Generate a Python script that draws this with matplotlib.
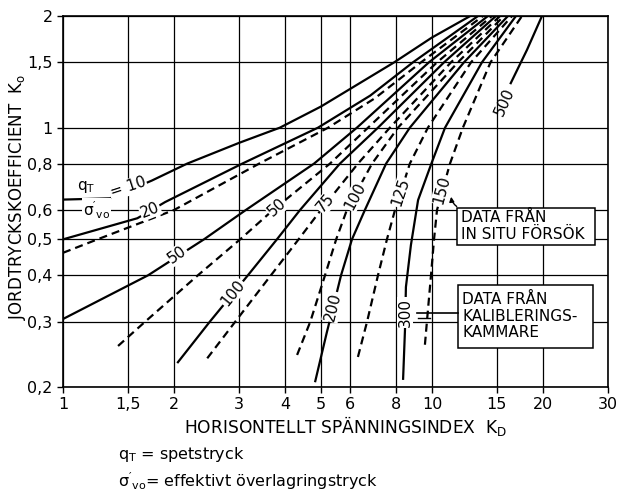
import matplotlib.pyplot as plt
from matplotlib.patches import Rectangle
from matplotlib.ticker import NullLocator

plt.rcParams['font.family'] = ['DejaVu Sans']
plt.rcParams['mathtext.default'] = 'regular'
plt.rcParams['lines.scale_dashes'] = False

# horizontal stress index K_D and earth pressure coefficient K_o,
# read off the chart, one pair of lists per curve (s = in situ, d = chamber)
kd_10s = [1.0, 1.34, 1.74, 2.17, 3.0, 3.87, 5.0, 7.9, 10.0, 12.7]
k0_10s = [0.64, 0.645, 0.72, 0.80, 0.91, 1.0, 1.14, 1.5, 1.75, 2.0]

kd_20s = [1.0, 1.59, 1.74, 1.89, 3.06, 4.91, 6.8, 8.88, 13.33]
k0_20s = [0.50, 0.57, 0.60, 0.63, 0.80, 1.0, 1.22, 1.5, 2.0]

kd_20d = [1.0, 1.24, 2.0, 3.40, 5.23, 7.0, 9.34, 13.75]
k0_20d = [0.46, 0.5, 0.6, 0.8, 1.0, 1.2, 1.5, 2.0]

kd_50s = [1.0, 1.70, 2.41, 3.13, 4.79, 6.26, 9.81, 14.18]
k0_50s = [0.305, 0.4, 0.5, 0.6, 0.8, 1.0, 1.5, 2.0]

kd_50d = [1.41, 1.67, 2.32, 3.02, 3.71, 5.29, 6.71, 10.32, 14.54]
k0_50d = [0.258, 0.3, 0.4, 0.5, 0.6, 0.8, 1.0, 1.5, 2.0]

kd_100s = [2.04, 2.50, 3.17, 3.80, 4.39, 5.63, 7.14, 10.78, 14.91]
k0_100s = [0.232, 0.3, 0.4, 0.5, 0.6, 0.8, 1.0, 1.5, 2.0]

kd_75d = [2.46, 2.93, 3.66, 4.35, 5.00, 6.30, 7.69, 11.26, 15.29]
k0_75d = [0.239, 0.3, 0.4, 0.5, 0.6, 0.8, 1.0, 1.5, 2.0]

kd_100d = [4.31, 4.68, 5.13, 5.50, 5.88, 6.88, 8.09, 11.76, 15.67]
k0_100d = [0.244, 0.3, 0.4, 0.5, 0.6, 0.8, 1.0, 1.5, 2.0]

kd_200s = [4.82, 5.19, 5.52, 5.67, 6.07, 6.58, 7.51, 8.71, 12.21, 16.07]
k0_200s = [0.206, 0.281, 0.359, 0.4, 0.5, 0.6, 0.8, 1.0, 1.5, 2.0]

kd_125d = [6.30, 6.67, 7.14, 7.55, 7.94, 8.71, 9.75, 12.76, 16.48]
k0_125d = [0.241, 0.3, 0.4, 0.5, 0.6, 0.8, 1.0, 1.5, 2.0]

kd_300s = [8.35, 8.45, 8.50, 8.77, 9.17, 10.0, 10.85, 13.66, 16.89]
k0_300s = [0.209, 0.285, 0.372, 0.483, 0.638, 0.808, 1.0, 1.5, 2.0]

kd_150d = [9.57, 9.69, 9.94, 10.13, 10.32, 11.19, 12.13, 14.41, 17.54]
k0_150d = [0.26, 0.3, 0.4, 0.5, 0.6, 0.8, 1.0, 1.5, 2.0]

kd_500s = [16.3, 18.09, 19.87]
k0_500s = [1.31, 1.62, 2.0]

x_ticks = [1, 1.5, 2, 3, 4, 5, 6, 8, 10, 15, 20, 30]
x_tick_labels = ['1', '1,5', '2', '3', '4', '5', '6', '8', '10', '15', '20', '30']
y_ticks = [0.2, 0.3, 0.4, 0.5, 0.6, 0.8, 1, 1.5, 2]
y_tick_labels = ['0,2', '0,3', '0,4', '0,5', '0,6', '0,8', '1', '1,5', '2']

solid_curves = [(kd_10s, k0_10s), (kd_20s, k0_20s), (kd_50s, k0_50s),
                (kd_100s, k0_100s), (kd_200s, k0_200s), (kd_300s, k0_300s),
                (kd_500s, k0_500s)]
dashed_curves = [(kd_20d, k0_20d), (kd_50d, k0_50d), (kd_75d, k0_75d),
                 (kd_100d, k0_100d), (kd_125d, k0_125d), (kd_150d, k0_150d)]

# curve labels: text, K_D, K_o, rotation
curve_labels = [('= 10', 1.50, 0.690, 18), ('20', 1.72, 0.60, 22),
                ('50', 2.04, 0.455, 35), ('50', 3.80, 0.611, 42),
                ('100', 2.89, 0.358, 51), ('75', 5.16, 0.628, 50),
                ('100', 6.20, 0.655, 62), ('125', 8.24, 0.670, 72),
                ('150', 10.65, 0.680, 75), ('200', 5.39, 0.329, 76),
                ('300', 8.45, 0.318, 90)]

fig = plt.figure(figsize=(6.2, 4.93), dpi=100)
ax = fig.add_axes([63 / 620, 1 - 387 / 493, 545 / 620, 371 / 493])


def ax_frac(px, py):
    # pixel position in the picture -> axes fraction
    return (px - 63) / 545, (387 - py) / 371


for kd, k0 in solid_curves:
    ax.plot(kd, k0, color='black', lw=1.6, solid_capstyle='butt', zorder=3)
for kd, k0 in dashed_curves:
    ax.plot(kd, k0, color='black', lw=1.6, ls=(0, (5.8, 3.6)), zorder=3)

white = dict(boxstyle='square,pad=0.06', fc='white', ec='none')
for txt, kd, k0, rot in curve_labels:
    ax.text(kd, k0, txt, rotation=rot, rotation_mode='anchor', ha='center',
            va='center', fontsize=11, bbox=white, zorder=5)

ax.text(1.154, 0.692, '$q_T$', ha='center', va='center', fontsize=11, zorder=5)
ax.text(1.236, 0.60, "$\\sigma'_{vo}$", ha='center', va='center', fontsize=11,
        bbox=white, zorder=5)
ax.text(15.77, 1.17, '500', rotation=66, rotation_mode='anchor', ha='center',
        va='center', fontsize=11, zorder=5)

ax.set_xscale('log')
ax.set_yscale('log')
ax.set_xlim(1, 30)
ax.set_ylim(0.2, 2)
ax.set_xticks(x_ticks)
ax.set_xticklabels(x_tick_labels)
ax.set_yticks(y_ticks)
ax.set_yticklabels(y_tick_labels)
ax.xaxis.set_minor_locator(NullLocator())
ax.yaxis.set_minor_locator(NullLocator())
ax.tick_params(direction='out', length=4, width=1, labelsize=11.5, colors='black')
ax.grid(True, color='black', lw=0.9)
for sp in ax.spines.values():
    sp.set_linewidth(1.2)

# legend boxes with leaders
x0, y0 = ax_frac(457, 245)
x1, y1 = ax_frac(595, 208)
ax.add_patch(Rectangle((x0, y0), x1 - x0, y1 - y0, transform=ax.transAxes,
                       fc='white', ec='black', lw=1.1, zorder=6, clip_on=False))
tx, ty = ax_frac(461, 226)
ax.text(tx, ty, 'DATA FRÅN\nIN SITU FÖRSÖK', transform=ax.transAxes,
        ha='left', va='center', fontsize=11, linespacing=1.1, zorder=7)
ax.annotate('', xy=ax_frac(451, 194), xytext=ax_frac(459, 208),
            xycoords='axes fraction', textcoords='axes fraction',
            arrowprops=dict(arrowstyle='-|>', lw=1, color='black',
                            mutation_scale=7, connectionstyle='arc3,rad=-0.3'),
            zorder=7)

x0, y0 = ax_frac(458, 348)
x1, y1 = ax_frac(593, 285)
ax.add_patch(Rectangle((x0, y0), x1 - x0, y1 - y0, transform=ax.transAxes,
                       fc='white', ec='black', lw=1.1, zorder=6, clip_on=False))
tx, ty = ax_frac(462, 316)
ax.text(tx, ty, 'DATA FRÅN\nKALIBLERINGS-\nKAMMARE', transform=ax.transAxes,
        ha='left', va='center', fontsize=11, linespacing=1.1, zorder=7)
lx0, ly = ax_frac(417, 313)
lx1, _ = ax_frac(458, 313)
ax.plot([lx0, lx1], [ly, ly], transform=ax.transAxes, color='black', lw=1.2,
        zorder=6)
lx0, ly = ax_frac(418, 318)
lx1, _ = ax_frac(430, 318)
ax.plot([lx0, lx1], [ly, ly], transform=ax.transAxes, color='black', lw=1,
        zorder=6)

fig.text(18 / 620, 1 - 197 / 493, 'JORDTRYCKSKOEFFICIENT  K$_{o}$', rotation=90,
         ha='center', va='center', fontsize=12)
fig.text(346 / 620, 1 - 426 / 493, 'HORISONTELLT SPÄNNINGSINDEX  K$_{D}$',
         ha='center', va='center', fontsize=12.3)
fig.text(118 / 620, 1 - 455 / 493, '$q_T$ = spetstryck', ha='left',
         va='center', fontsize=11.5)
fig.text(118 / 620, 1 - 481 / 493, "$\\sigma'_{vo}$= effektivt överlagringstryck",
         ha='left', va='center', fontsize=11.5)

fig.savefig('out.png', dpi=100)
